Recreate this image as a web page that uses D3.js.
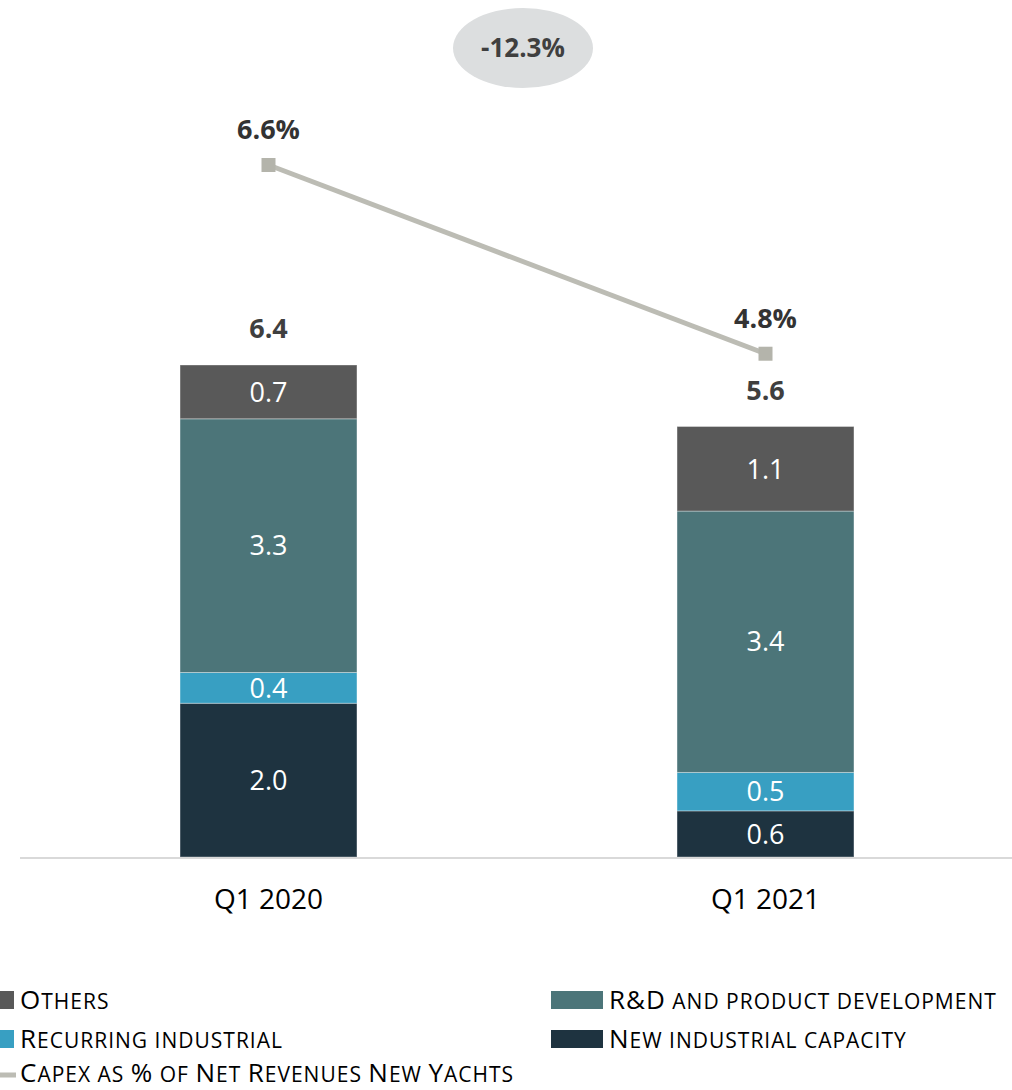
<!DOCTYPE html>
<html>
<head>
<meta charset="utf-8">
<script src="https://cdn.jsdelivr.net/npm/d3@7"></script>
<style>
  body { margin: 0; background: #fff; }
  svg { display: block; font-family: "Open Sans", sans-serif; }
</style>
</head>
<body>
<svg id="chart" width="1012" height="1090"></svg>
<script>
// data
var categories = ["Q1 2020", "Q1 2021"];
var newCapacity = [2.0, 0.6];
var recurring = [0.4, 0.5];
var rnd = [3.3, 3.4];
var others = [0.7, 1.1];
var totals = [6.4, 5.6];
var capexPct = [6.6, 4.8];
var changeLabel = "-12.3%";

var seriesNames = ["New industrial capacity", "Recurring industrial", "R&D and product development", "Others"];
var seriesColors = ["#1e3340", "#389fc2", "#4c7579", "#595959"];

var rows = categories.map(function (c, i) {
    return { cat: c, s0: newCapacity[i], s1: recurring[i], s2: rnd[i], s3: others[i] };
});

var svg = d3.select("#chart");

var baseY = 857;

// x scale
var x = d3.scaleBand()
    .domain(categories)
    .range([20, 1014])
    .paddingInner(0.644)
    .paddingOuter(0.322);

// y scale for bars
var y = d3.scaleLinear().domain([0, 6.4]).range([baseY, 365]);
// secondary scale for percent line
var y2 = d3.scaleLinear().domain([0, 6.6]).range([baseY, 165]);

var stack = d3.stack().keys(["s0", "s1", "s2", "s3"]);
var stacked = stack(rows);

// bars
var layers = svg.append("g").selectAll("g")
    .data(stacked)
    .enter()
    .append("g")
    .attr("fill", function (d, i) { return seriesColors[i]; });

layers.selectAll("rect")
    .data(function (d) { return d; })
    .enter()
    .append("rect")
    .attr("x", function (d) { return x(d.data.cat); })
    .attr("y", function (d) { return y(d[1]); })
    .attr("width", x.bandwidth())
    .attr("height", function (d) { return y(d[0]) - y(d[1]); })
    .attr("stroke", "#ffffff")
    .attr("stroke-opacity", 0.35)
    .attr("stroke-width", 1);

// segment labels
layers.selectAll("text")
    .data(function (d) { return d; })
    .enter()
    .append("text")
    .attr("x", function (d) { return x(d.data.cat) + x.bandwidth() / 2; })
    .attr("y", function (d) { return (y(d[0]) + y(d[1])) / 2; })
    .attr("dy", "0.36em")
    .attr("text-anchor", "middle")
    .attr("fill", "#ffffff")
    .attr("font-size", 27)
    .text(function (d) { return (d[1] - d[0]).toFixed(1); });

// axis baseline
svg.append("line")
    .attr("x1", 20).attr("x2", 1012)
    .attr("y1", baseY + 1).attr("y2", baseY + 1)
    .attr("stroke", "#d9d9d9")
    .attr("stroke-width", 2);

// category labels
svg.append("g").selectAll("text")
    .data(categories)
    .enter()
    .append("text")
    .attr("x", function (d) { return x(d) + x.bandwidth() / 2; })
    .attr("y", 909)
    .attr("text-anchor", "middle")
    .attr("fill", "#000")
    .attr("font-size", 28)
    .text(function (d) { return d; });

// totals
svg.append("g").selectAll("text")
    .data(totals)
    .enter()
    .append("text")
    .attr("x", function (d, i) { return x(categories[i]) + x.bandwidth() / 2; })
    .attr("y", function (d) { return y(d) - 27; })
    .attr("text-anchor", "middle")
    .attr("fill", "#3f3f3f")
    .attr("font-weight", "bold")
    .attr("font-size", 27)
    .text(function (d) { return d.toFixed(1); });

// capex % line
var line = d3.line()
    .x(function (d, i) { return x(categories[i]) + x.bandwidth() / 2; })
    .y(function (d) { return y2(d); });

svg.append("path")
    .datum(capexPct)
    .attr("d", line)
    .attr("fill", "none")
    .attr("stroke", "#bcbcb4")
    .attr("stroke-width", 5);

svg.append("g").selectAll("rect")
    .data(capexPct)
    .enter()
    .append("rect")
    .attr("x", function (d, i) { return x(categories[i]) + x.bandwidth() / 2 - 7; })
    .attr("y", function (d) { return y2(d) - 7; })
    .attr("width", 14)
    .attr("height", 14)
    .attr("fill", "#b4b4ab");

svg.append("g").selectAll("text")
    .data(capexPct)
    .enter()
    .append("text")
    .attr("x", function (d, i) { return x(categories[i]) + x.bandwidth() / 2; })
    .attr("y", function (d) { return y2(d) - 26; })
    .attr("text-anchor", "middle")
    .attr("fill", "#333333")
    .attr("font-weight", "bold")
    .attr("font-size", 27)
    .text(function (d) { return d.toFixed(1) + "%"; });

// change bubble
svg.append("ellipse")
    .attr("cx", 523).attr("cy", 48)
    .attr("rx", 70).attr("ry", 40)
    .attr("fill", "#dcdedf");
svg.append("text")
    .attr("x", 523).attr("y", 57)
    .attr("text-anchor", "middle")
    .attr("fill", "#3f3f3f")
    .attr("font-weight", "bold")
    .attr("font-size", 26)
    .text(changeLabel);

// small caps by hand: capitals big, lower case letters shown as smaller capitals
function smallCaps(textSel, str) {
    var runs = str.match(/[a-z ]+|[^a-z ]+/g) || [];
    runs.forEach(function (r) {
        var lower = /[a-z]/.test(r) || r.trim() === "";
        textSel.append("tspan")
            .attr("font-size", lower ? 21 : 26)
            .text(r.toUpperCase());
    });
}

// legend
var legendItems = [
    { name: "Others", color: seriesColors[3], x: -38, y: 1000 },
    { name: "R&D and product development", color: seriesColors[2], x: 551, y: 1000 },
    { name: "Recurring industrial", color: seriesColors[1], x: -38, y: 1039 },
    { name: "New industrial capacity", color: seriesColors[0], x: 551, y: 1039 }
];

var leg = svg.append("g");
legendItems.forEach(function (d) {
    leg.append("rect")
        .attr("x", d.x).attr("y", d.y - 9)
        .attr("width", 52).attr("height", 18)
        .attr("fill", d.color);
    var t = leg.append("text")
        .attr("x", d.x + 58).attr("y", d.y + 9)
        .attr("fill", "#000")
        .attr("letter-spacing", 1);
    smallCaps(t, d.name);
});

leg.append("line")
    .attr("x1", -20).attr("x2", 16)
    .attr("y1", 1075).attr("y2", 1075)
    .attr("stroke", "#bcbcb4")
    .attr("stroke-width", 5);
var lt = leg.append("text")
    .attr("x", 20).attr("y", 1082)
    .attr("fill", "#000")
    .attr("letter-spacing", 1);
smallCaps(lt, "Capex as % of Net Revenues New Yachts");
</script>
</body>
</html>
